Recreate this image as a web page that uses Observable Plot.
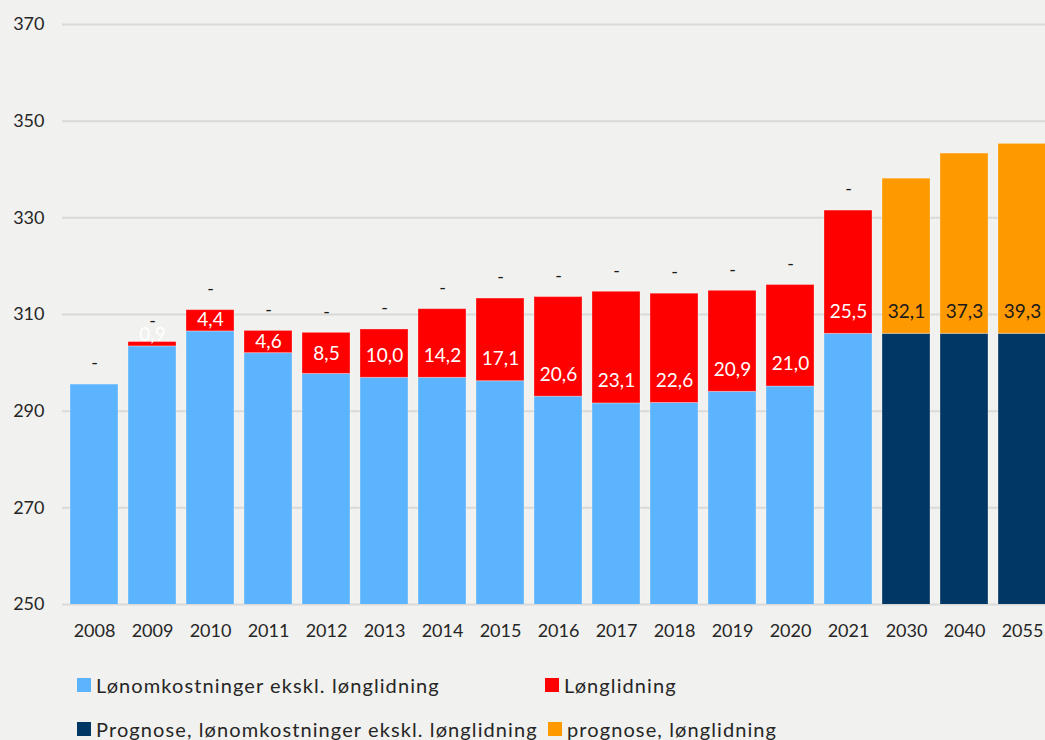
<!DOCTYPE html>
<html>
<head>
<meta charset="utf-8">
<script src="https://cdn.jsdelivr.net/npm/d3@7"></script>
<script src="https://cdn.jsdelivr.net/npm/@observablehq/plot@0.6"></script>
<style>
  html, body { margin: 0; padding: 0; overflow: hidden; background: #f1f1ef; }
  #wrap { position: relative; width: 1045px; height: 740px; overflow: hidden; font-family: Lato, "Open Sans", sans-serif; color: #262626; }
  #chart svg { max-width: none !important; display: block; }
  .leg { position: absolute; display: flex; align-items: center; font-size: 20px; letter-spacing: 1.1px; white-space: nowrap; }
  .sw { width: 14px; height: 14px; margin-right: 5px; }
</style>
</head>
<body>
<div id="wrap">
  <div id="chart"></div>
  <div id="legend"></div>
</div>
<script>
const years = ["2008","2009","2010","2011","2012","2013","2014","2015","2016","2017","2018","2019","2020","2021","2030","2040","2055"];
const baseValues = [295.5, 303.4, 306.5, 302.0, 297.7, 296.9, 296.9, 296.2, 293.0, 291.6, 291.7, 294.0, 295.1, 306.0, 306.0, 306.0, 306.0];
const glideValues = [0, 0.9, 4.4, 4.6, 8.5, 10.0, 14.2, 17.1, 20.6, 23.1, 22.6, 20.9, 21.0, 25.5, 32.1, 37.3, 39.3];
const glideLabels = ["", "0,9", "4,4", "4,6", "8,5", "10,0", "14,2", "17,1", "20,6", "23,1", "22,6", "20,9", "21,0", "25,5", "32,1", "37,3", "39,3"];
const isForecast = [false,false,false,false,false,false,false,false,false,false,false,false,false,false,true,true,true];
const seriesNames = ["Lønomkostninger ekskl. lønglidning", "Lønglidning", "Prognose, lønomkostninger ekskl. lønglidning", "prognose, lønglidning"];
const seriesColors = ["#5cb4ff", "#ff0000", "#003764", "#ff9900"];
const yTicks = [250, 270, 290, 310, 330, 350, 370];

const rows = [];
years.forEach((yr, i) => {
  rows.push({year: yr, series: isForecast[i] ? seriesNames[2] : seriesNames[0], value: baseValues[i]});
  rows.push({year: yr, series: isForecast[i] ? seriesNames[3] : seriesNames[1], value: glideValues[i]});
});

const labelRows = years.map((yr, i) => ({
  year: yr,
  y: baseValues[i] + Math.min(4.6, Math.max(2.3, glideValues[i] / 2)),
  text: glideLabels[i],
  forecast: isForecast[i]
})).filter(d => d.text !== "");

const dashRows = years.map((yr, i) => ({year: yr, total: baseValues[i] + glideValues[i], forecast: isForecast[i]}))
  .filter(d => !d.forecast);

const chart = Plot.plot({
  width: 1053,
  height: 655,
  marginLeft: 62,
  marginRight: 0,
  marginTop: 24,
  marginBottom: 51,
  style: {background: "transparent", fontFamily: "Lato, sans-serif", fontSize: "18px", color: "#262626"},
  x: {domain: years, paddingInner: 0.1765, paddingOuter: 0.091, label: null},
  y: {domain: [250, 370], label: null},
  color: {domain: seriesNames, range: seriesColors},
  marks: [
    Plot.ruleY(yTicks, {stroke: "#d9d9d9", strokeWidth: 2}),
    Plot.barY(rows, {x: "year", y: "value", fill: "series", clip: true, stroke: "#ffffff", strokeOpacity: 0.3, strokeWidth: 1}),
    Plot.text(labelRows, {x: "year", y: "y", text: "text", fill: d => d.forecast ? "#1a1a1a" : "#ffffff", fontSize: 19}),
    Plot.text(dashRows, {x: "year", y: "total", text: () => "-", dy: -21, fill: "#1a1a1a", fontSize: 18}),
    Plot.axisX({tickSize: 0, tickPadding: 20, fontSize: 18, label: null}),
    Plot.axisY({ticks: yTicks, tickSize: 0, tickPadding: 18, fontSize: 18, label: null})
  ]
});
document.getElementById("chart").appendChild(chart);

const legendPos = [
  {left: 77, top: 685},
  {left: 545, top: 685},
  {left: 77, top: 729},
  {left: 548, top: 729}
];
const legend = document.getElementById("legend");
seriesNames.forEach((name, i) => {
  const item = document.createElement("div");
  item.className = "leg";
  item.style.left = legendPos[i].left + "px";
  item.style.top = (legendPos[i].top - 12) + "px";
  item.style.height = "24px";
  const sw = document.createElement("span");
  sw.className = "sw";
  sw.style.background = seriesColors[i];
  const tx = document.createElement("span");
  tx.textContent = name;
  item.appendChild(sw);
  item.appendChild(tx);
  legend.appendChild(item);
});
</script>
</body>
</html>
